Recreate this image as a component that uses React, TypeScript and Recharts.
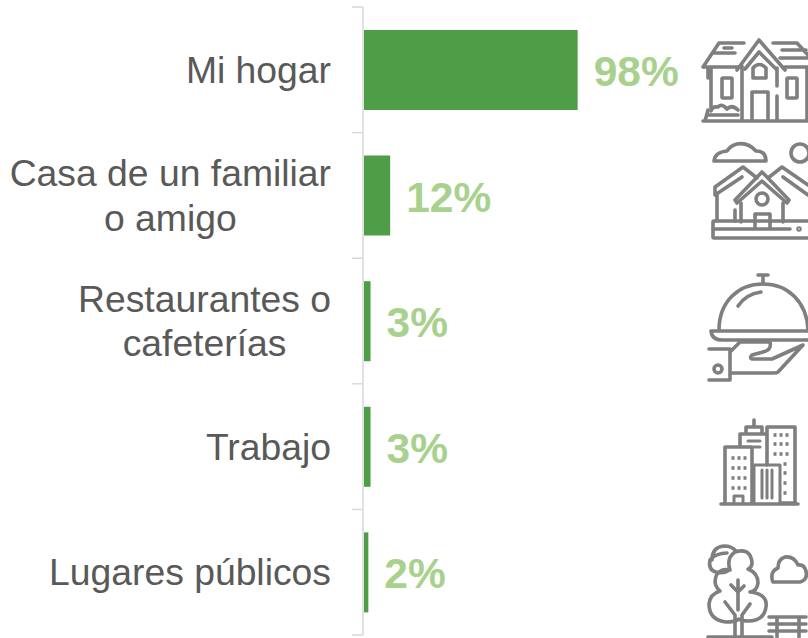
import React from "react";
import { BarChart, Bar, XAxis, YAxis, LabelList } from "recharts";

const categories = ["Mi hogar", "Casa de un familiar\no amigo", "Restaurantes o\ncafeterías", "Trabajo", "Lugares públicos"];
const values = [98, 12, 3, 3, 2];
const rows = categories.map((name, i) => ({ name, value: values[i] }));

const W = 808, H = 638, TOP = 7, BOTTOM = 3, AXIS_X = 364;
const BAND = (H - TOP - BOTTOM) / categories.length;
const FONT = '"Liberation Sans", Arial, sans-serif';
const TICK_SIZE = 37.3;

function textWidth(s: string) {
  const ctx = document.createElement("canvas").getContext("2d")!;
  ctx.font = `${TICK_SIZE}px ${FONT}`;
  return ctx.measureText(s).width;
}

function CategoryTick(props: any) {
  const { y, payload, index } = props;
  const lines = String(payload.value).split("\n");
  const maxW = Math.max(...lines.map(textWidth));
  const cx = AXIS_X - 33 - maxW / 2;
  const stroke = "#D9D9D9";
  const lineX = AXIS_X - 1;
  return (
    <g>
      <line x1={lineX} x2={lineX} y1={y - BAND / 2} y2={y + BAND / 2} stroke={stroke} strokeWidth={1.5} />
      <line x1={AXIS_X - 12} x2={lineX} y1={y - BAND / 2} y2={y - BAND / 2} stroke={stroke} strokeWidth={1.5} />
      {index === categories.length - 1 && (
        <line x1={AXIS_X - 12} x2={lineX} y1={y + BAND / 2} y2={y + BAND / 2} stroke={stroke} strokeWidth={1.5} />
      )}
      <text x={cx} y={y} textAnchor="middle" fontFamily={FONT} fontSize={TICK_SIZE} fill="#595959">
        {lines.map((l, i) => (
          <tspan key={i} x={cx} y={y + 13 + (i - (lines.length - 1) / 2) * 44.5}>{l}</tspan>
        ))}
      </text>
    </g>
  );
}

function PercentLabel(props: any) {
  const { x, y, width, height, value } = props;
  return (
    <text x={x + width + 16} y={y + height / 2 + 16} fontFamily={FONT} fontSize={42.5} fontWeight={700} fill="#A9D18E">
      {`${value}%`}
    </text>
  );
}

function Dots({ xs, ys }: { xs: number[]; ys: number[] }) {
  return (
    <g fill="#7F7F7F" stroke="none">
      {ys.flatMap((y) => xs.map((x) => <rect key={`${x}-${y}`} x={x - 1.5} y={y - 1.8} width={3} height={3.6} />))}
    </g>
  );
}

function Icons() {
  return (
    <svg width={W} height={H} style={{ position: "absolute", left: 0, top: 0, pointerEvents: "none" }}>
      <g fill="none" stroke="#7F7F7F" strokeWidth={3.6} strokeLinecap="round" strokeLinejoin="round">
        {/* house */}
        <path d="M703 67 L719 43 H744 M773 43 H797 L808 55 M703 67 H738 M785 67 H808 M714 53 H735 M724 48 H732 M782 50 H806 M780 58 H808" />
        <path d="M737 70 L759 40 L785 70 M745 69 L759 52 L776 69" />
        <path d="M708 68 V78 M711 68 V108 M742 66 V120 M777 68 V86 M777 96 V120 M807 68 V120" />
        <path d="M703 121 H808 M707 115 H738 M705 121 L708 110" />
        <rect x={722} y={78} width={10} height={20} rx={1} />
        <rect x={787} y={78} width={10} height={20} rx={1} />
        <path d="M752 120 V92 H768 V120 M753 78 V68 Q759 61 766 68 V78 Z" />
        <path d="M711 111 Q712 106 718 107 Q722 103 727 109 Q732 104 738 110" />
        {/* neighbours */}
        <path d="M714 161 H766 Q766 151 756 151 Q748 142 737 144 Q730 146 727 151 Q715 152 714 161 Z" />
        <circle cx={800} cy={153} r={9} />
        <path d="M735 200 L762 172 L789 200 L787 203 L762 181 L737 203 Z" />
        <path d="M741 203 V222 M783 203 V222 M755 228 V214 H770 V228" />
        <circle cx={762} cy={199} r={6} />
        <path d="M715 187 L743 167 L757 178 M715 187 V195 L742 177 M717 195 V221 M735 210 V221" />
        <path d="M808 185 L782 167 L768 178 M808 195 L783 177" />
        <rect x={713} y={221} width={110} height={17} rx={1} />
        <path d="M713 229 H790" />
        <circle cx={799} cy={229} r={1} />
        {/* cloche */}
        <path d="M758 275 H768 M763 275 V284" />
        <path d="M719 330 C719 302 738 284 763 284 C788 284 807 302 808 330" />
        <path d="M738 306 Q746 294 761 292" />
        <path d="M711 331 H808 M711 331 Q712 340 722 340 H808" />
        <path d="M709 349 H730 V380 H709 M730 352 L740 342 H770 Q772 350 763 352 L752 355 Q749 358 752 359 H772 L803 345 L778 372 Q777 373 774 373 H730" />
        <circle cx={718} cy={369} r={4} />
        {/* buildings */}
        <path d="M721 504 H798" />
        <path d="M725 503 V447 H752 V503 M740 447 V434 H767 M746 434 V427 H762 V434 M754 427 V420 M767 465 V427 H795 V503 H780" />
        <path d="M754 503 V465 H780 V503 M762 470 V498 M767 470 V498 M772 470 V498" strokeWidth={3} />
        <path d="M734 503 V496 H743 V503 M748 441 H760 M754 447 H760" strokeWidth={3} />
        <Dots xs={[733, 739, 745]} ys={[458, 468, 478, 488]} />
        <Dots xs={[775, 781, 787]} ys={[435, 444, 454]} />
        <Dots xs={[785]} ys={[464, 473, 483, 493]} />
        {/* park */}
        <path d="M727 553 Q716 553 710 560 Q708 570 716 572 Q724 574 729 570 M712 560 Q712 547 724 546 Q732 546 736 551" />
        <path d="M735 552 Q748 548 751 558 Q754 566 748 569 Q758 573 758 583 Q757 591 750 592 Q768 594 766 607 Q764 621 748 621 Q742 621 739 619 Q735 622 726 622 Q709 620 709 604 Q710 594 720 591 Q712 584 717 574 Q722 568 730 570 Q726 558 735 552 Z" />
        <path d="M735 637 V615 L725 602 M742 637 V615 L750 604 M738 610 V580 M738 592 L731 585 M738 592 L744 586" />
        <path d="M708 637 H772 M773 582 H800 Q808 580 806 571 Q804 564 798 565 Q794 556 785 557 Q778 559 778 568 Q771 571 772 578 Q772 581 773 582 Z" />
        <path d="M769 617 H806 M769 624 H806 M769 631 H806 M777 617 V637 M799 617 V637" />
      </g>
    </svg>
  );
}

export default function App() {
  return (
    <div style={{ position: "fixed", left: 0, top: 0, width: W, height: H, overflow: "hidden", background: "#fff" }}>
      <BarChart
        width={W}
        height={H}
        data={rows}
        layout="vertical"
        margin={{ top: TOP, right: 226, bottom: BOTTOM, left: 0 }}
        barCategoryGap={0}
      >
        <XAxis type="number" domain={[0, 100]} hide />
        <YAxis
          type="category"
          dataKey="name"
          width={AXIS_X}
          axisLine={false}
          tickLine={false}
          interval={0}
          tick={CategoryTick}
        />
        <Bar dataKey="value" fill="#4E9D47" barSize={80} isAnimationActive={false}>
          <LabelList dataKey="value" content={PercentLabel} />
        </Bar>
      </BarChart>
      <Icons />
    </div>
  );
}
